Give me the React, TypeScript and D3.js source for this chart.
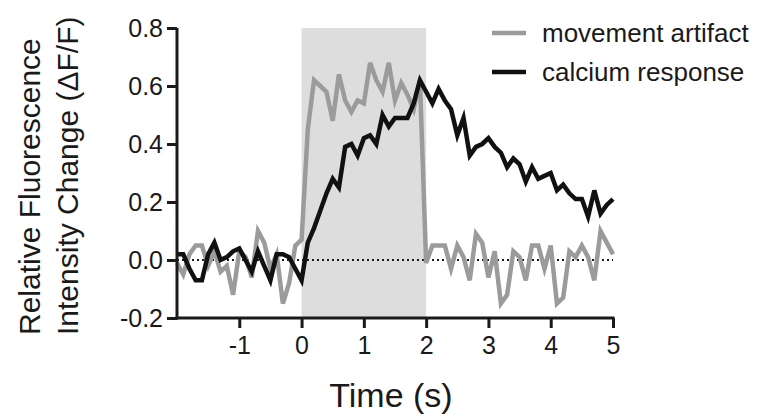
import React, { useRef, useEffect } from 'react';
import * as d3 from 'd3';

// sample times (s)
const times = [
  -2.0, -1.9, -1.8, -1.7, -1.6, -1.5, -1.4, -1.3, -1.2, -1.1,
  -1.0, -0.9, -0.8, -0.7, -0.6, -0.5, -0.4, -0.3, -0.2, -0.1,
  0.0, 0.1, 0.2, 0.3, 0.4, 0.5, 0.6, 0.7, 0.8, 0.9,
  1.0, 1.1, 1.2, 1.3, 1.4, 1.5, 1.6, 1.7, 1.8, 1.9,
  2.0, 2.1, 2.2, 2.3, 2.4, 2.5, 2.6, 2.7, 2.8, 2.9,
  3.0, 3.1, 3.2, 3.3, 3.4, 3.5, 3.6, 3.7, 3.8, 3.9,
  4.0, 4.1, 4.2, 4.3, 4.4, 4.5, 4.6, 4.7, 4.8, 4.9,
  5.0,
];

const movementArtifact = [
  -0.01, -0.05, 0.02, 0.05, 0.05, -0.02, 0.03, -0.04, -0.02, -0.12,
  0.03, 0.01, -0.06, 0.10, 0.06, -0.03, 0.02, -0.15, -0.08, 0.05,
  0.07, 0.45, 0.62, 0.60, 0.58, 0.48, 0.64, 0.55, 0.51, 0.55,
  0.54, 0.68, 0.62, 0.58, 0.68, 0.55, 0.61, 0.57, 0.52, 0.62,
  -0.01, 0.05, 0.05, 0.05, -0.03, 0.05, 0.01, -0.07, 0.09, 0.06,
  -0.06, 0.03, -0.15, -0.12, 0.03, 0.01, -0.07, 0.05, 0.05, -0.03,
  0.05, -0.15, -0.13, 0.03, 0.01, 0.05, 0.01, -0.07, 0.10, 0.06,
  0.02,
];

const calciumResponse = [
  0.02, 0.02, -0.03, -0.07, -0.07, 0.02, 0.06, 0.0, 0.01, 0.03,
  0.04, 0.0, -0.04, 0.03, -0.02, -0.07, 0.02, 0.02, 0.01, -0.03,
  -0.07, 0.06, 0.11, 0.17, 0.23, 0.28, 0.25, 0.39, 0.40, 0.36,
  0.42, 0.43, 0.40, 0.50, 0.46, 0.49, 0.49, 0.49, 0.54, 0.62,
  0.58, 0.54, 0.59, 0.55, 0.52, 0.43, 0.49, 0.36, 0.39, 0.40,
  0.42, 0.39, 0.37, 0.32, 0.35, 0.33, 0.27, 0.32, 0.28, 0.29,
  0.30, 0.24, 0.26, 0.23, 0.21, 0.21, 0.15, 0.24, 0.16, 0.19,
  0.21,
];

const stimulus = [0, 2];
const xTicks = [-1, 0, 1, 2, 3, 4, 5];
const yTicks = [-0.2, 0, 0.2, 0.4, 0.6, 0.8];

const series = [
  { name: 'movement artifact', values: movementArtifact, color: '#9b9b9b' },
  { name: 'calcium response', values: calciumResponse, color: '#111' },
];

function FluorescenceChart() {
  const ref = useRef<SVGSVGElement>(null);

  useEffect(() => {
    const svg = d3.select(ref.current);
    svg.selectAll('*').remove();

    const font = '"Liberation Sans", Arial, Helvetica, sans-serif';
    const ink = '#1a1a1a';

    const x = d3.scaleLinear().domain([-2, 5]).range([177, 613]);
    const y = d3.scaleLinear().domain([-0.2, 0.8]).range([318, 28]);

    // stimulus window
    svg.append('rect')
      .attr('x', x(stimulus[0]))
      .attr('y', y(0.8))
      .attr('width', x(stimulus[1]) - x(stimulus[0]))
      .attr('height', y(-0.2) - y(0.8))
      .attr('fill', '#dddddd');

    // zero line
    svg.append('line')
      .attr('x1', x(-2)).attr('x2', x(5))
      .attr('y1', y(0)).attr('y2', y(0))
      .attr('stroke', ink)
      .attr('stroke-width', 2)
      .attr('stroke-dasharray', '2,3');

    const line = d3.line<number>()
      .x((d, i) => x(times[i]))
      .y(d => y(d));

    series.forEach(s => {
      svg.append('path')
        .datum(s.values)
        .attr('fill', 'none')
        .attr('stroke', s.color)
        .attr('stroke-width', 4.5)
        .attr('stroke-linejoin', 'miter')
        .attr('d', line);
    });

    // plain hyphen for negatives, as in the original figure
    const fmtX = (d: number) => String(d);
    const fmtY = (d: number) => d.toFixed(1);

    // axes
    const xAxis = svg.append('g')
      .attr('transform', `translate(0,${y(-0.2)})`)
      .call(d3.axisBottom(x).tickValues(xTicks).tickFormat(fmtX as any).tickSize(10).tickPadding(8).tickSizeOuter(0));
    const yAxis = svg.append('g')
      .attr('transform', `translate(${x(-2)},0)`)
      .call(d3.axisLeft(y).tickValues(yTicks).tickFormat(fmtY as any).tickSize(10).tickPadding(4).tickSizeOuter(0));

    [xAxis, yAxis].forEach(a => {
      a.select('.domain').attr('stroke', ink).attr('stroke-width', 3);
      a.selectAll('.tick line').attr('stroke', ink).attr('stroke-width', 3);
      a.selectAll('.tick text')
        .attr('fill', ink)
        .style('font-family', font)
        .style('font-size', '25px');
    });
    xAxis.select('.domain').attr('d', `M${x(-2) - 1.5},0H${x(5) + 1.5}`);
    yAxis.select('.domain').attr('d', `M0,${y(0.8)}V${y(-0.2) + 1.5}`);

    // axis titles
    svg.append('text')
      .attr('x', 391)
      .attr('y', 407)
      .attr('text-anchor', 'middle')
      .attr('fill', ink)
      .style('font-family', font)
      .style('font-size', '34px')
      .text('Time (s)');

    const yTitle = svg.append('text')
      .attr('transform', 'translate(0,335) rotate(-90)')
      .attr('fill', ink)
      .style('font-family', font)
      .style('font-size', '30px');
    yTitle.append('tspan').attr('x', 0).attr('y', 40).text('Relative Fluorescence');
    yTitle.append('tspan').attr('x', 0).attr('y', 78).text('Intensity Change (ΔF/F)');

    // legend
    const legend = svg.append('g')
      .selectAll('g')
      .data(series)
      .enter().append('g')
        .attr('transform', (d, i) => `translate(492, ${33 + i * 39})`);

    legend.append('line')
      .attr('x1', 0).attr('x2', 34)
      .attr('stroke', d => d.color)
      .attr('stroke-width', 4.5);

    legend.append('text')
      .attr('x', 50)
      .attr('dy', '0.35em')
      .attr('fill', ink)
      .style('font-family', font)
      .style('font-size', '26px')
      .text(d => d.name);
  }, []);

  return <svg ref={ref} width={770} height={420} style={{ position: 'absolute', left: 0, top: 0, background: '#fff' }}></svg>;
}

export default function App() {
  return <FluorescenceChart />;
}
